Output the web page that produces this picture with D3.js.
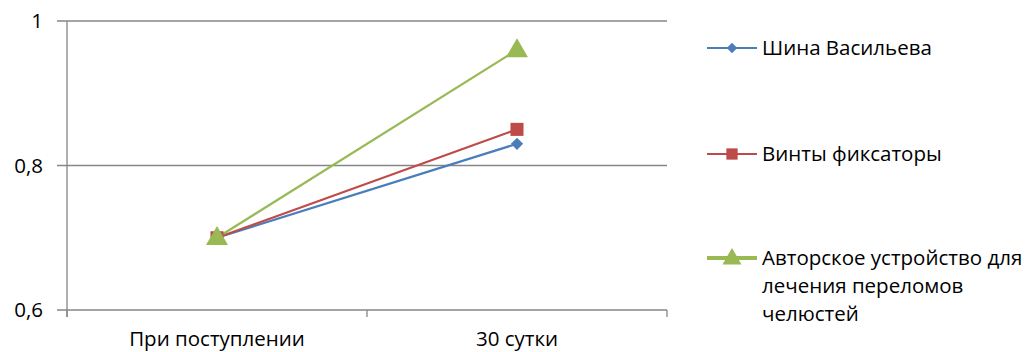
<!DOCTYPE html>
<html><head><meta charset="utf-8">
<script src="https://cdn.jsdelivr.net/npm/d3@7"></script>
<style>body{margin:0;background:#fff}svg{display:block}text{font-family:"Open Sans","Noto Sans",sans-serif;fill:#000}</style>
</head><body>
<svg id="c" width="1034" height="352"></svg>
<script>
const categories = ["При поступлении", "30 сутки"];
const seriesNames = ["Шина Васильева", "Винты фиксаторы", "Авторское устройство для лечения переломов челюстей"];
const seriesVasilyev = [0.70, 0.83];
const seriesScrews = [0.70, 0.85];
const seriesAuthor = [0.70, 0.96];
const yTicks = [0.6, 0.8, 1];
const yTickLabels = ["0,6", "0,8", "1"];

const colors = ["#4A7EBB", "#BE4B48", "#98B954"];
const series = [seriesVasilyev, seriesScrews, seriesAuthor];
function marker(k, scale) {
  if (k === 0) return { d: d3.symbol().type(d3.symbolSquare).size(75 * scale)(), rot: 45, dy: 0 };
  if (k === 1) return { d: d3.symbol().type(d3.symbolSquare).size(170 * scale)(), rot: 0, dy: 0 };
  return { d: d3.symbol().type(d3.symbolTriangle).size(210 * scale)(), rot: 0, dy: 1 };
}

const svg = d3.select("#c");
const L = 67, R = 667, T = 21, B = 310;
const FS = 20.5;
const x = d3.scaleBand().domain(categories).range([L, R]);
const y = d3.scaleLinear().domain([0.6, 1]).range([B, T]);

svg.append("g").selectAll("line").data(yTicks).join("line")
  .attr("x1", L - 10).attr("x2", R).attr("y1", d => y(d)).attr("y2", d => y(d))
  .attr("stroke", "#868686").attr("stroke-width", 1.3);
svg.append("line").attr("x1", L).attr("x2", L).attr("y1", T).attr("y2", B + 7)
  .attr("stroke", "#868686").attr("stroke-width", 1.3);
const bounds = [L, ...categories.map(c => x(c) + x.bandwidth())];
svg.append("g").selectAll("line").data(bounds).join("line")
  .attr("x1", d => d).attr("x2", d => d).attr("y1", B).attr("y2", B + 7)
  .attr("stroke", "#868686").attr("stroke-width", 1.3);
svg.append("g").selectAll("text").data(yTicks).join("text")
  .attr("x", 43).attr("y", d => y(d)).attr("dy", "0.35em").attr("text-anchor", "end")
  .attr("font-size", FS).text((d, i) => yTickLabels[i]);
svg.append("g").selectAll("text").data(categories).join("text")
  .attr("x", d => x(d) + x.bandwidth() / 2).attr("y", 339).attr("dy", "0.35em")
  .attr("text-anchor", "middle").attr("font-size", FS).text(d => d);

const cx = c => x(c) + x.bandwidth() / 2;
const line = d3.line().x((d, i) => cx(categories[i])).y(d => y(d));
series.forEach((s, k) => {
  svg.append("path").attr("d", line(s)).attr("fill", "none")
    .attr("stroke", colors[k]).attr("stroke-width", 2.2);
});
series.forEach((s, k) => {
  const m = marker(k, 1);
  svg.append("g").selectAll("path").data(s).join("path")
    .attr("d", m.d)
    .attr("transform", (d, i) => `translate(${cx(categories[i])},${y(d) + m.dy}) rotate(${m.rot})`)
    .attr("fill", colors[k]);
});

const legY = [48, 154, 258];
const legLines = [["Шина Васильева"], ["Винты фиксаторы"], ["Авторское устройство для", "лечения переломов", "челюстей"]];
legY.forEach((ly, k) => {
  const g = svg.append("g");
  g.append("line").attr("x1", 707).attr("x2", 757).attr("y1", ly).attr("y2", ly)
    .attr("stroke", colors[k]).attr("stroke-width", k === 2 ? 4 : 2.2);
  const m = marker(k, 0.75);
  g.append("path").attr("d", m.d)
    .attr("transform", `translate(732,${ly + m.dy}) rotate(${m.rot})`).attr("fill", colors[k]);
  legLines[k].forEach((t, j) => {
    g.append("text").attr("x", 762).attr("y", ly + j * 28).attr("dy", "0.35em")
      .attr("font-size", FS).text(t);
  });
});
</script>
</body></html>
